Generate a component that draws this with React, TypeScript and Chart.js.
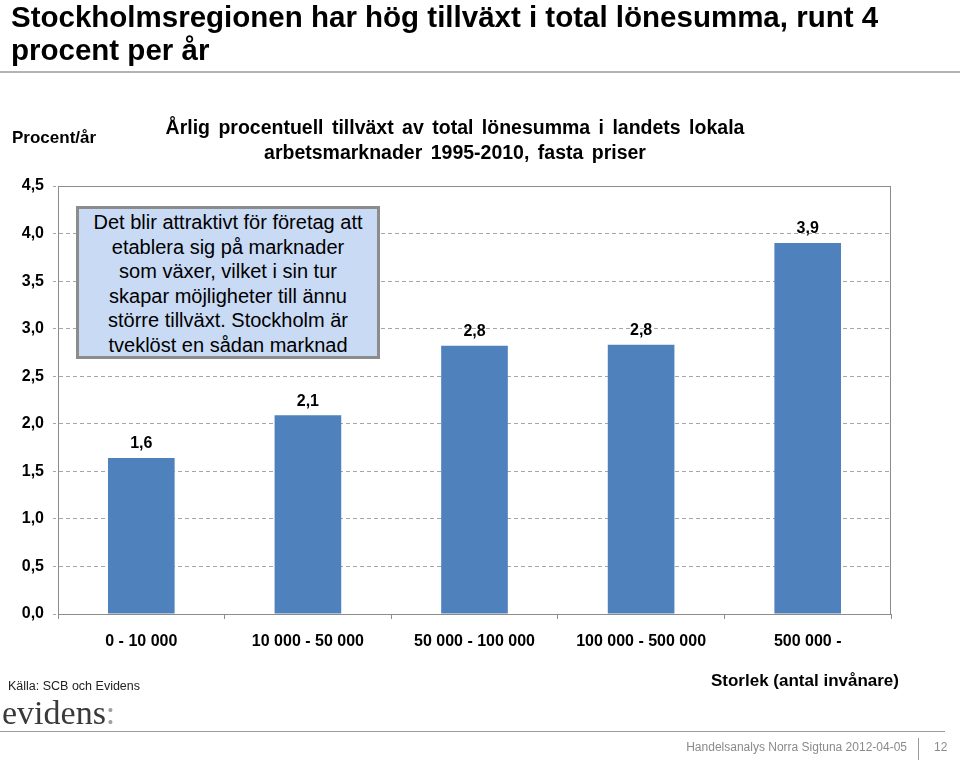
import React, { useEffect, useRef } from "react";
import { Chart, registerables } from "chart.js";

Chart.register(...registerables);

// ---- data ----
const categories = ["0 - 10 000", "10 000 - 50 000", "50 000 - 100 000", "100 000 - 500 000", "500 000 -"];
const growthValues = [1.64, 2.09, 2.82, 2.83, 3.9];
const yMin = 0;
const yMax = 4.5;
const yStep = 0.5;

const pageTitle = ["Stockholmsregionen har hög tillväxt i total lönesumma, runt 4", "procent per år"];
const chartTitle = ["Årlig procentuell tillväxt av total lönesumma i landets lokala", "arbetsmarknader 1995-2010, fasta priser"];
const yAxisTitle = "Procent/år";
const xAxisTitle = "Storlek (antal invånare)";
const noteLines = [
  "Det blir attraktivt för företag att",
  "etablera sig på marknader",
  "som växer, vilket i sin tur",
  "skapar möjligheter till ännu",
  "större tillväxt. Stockholm är",
  "tveklöst en sådan marknad",
];
const sourceText = "Källa: SCB och Evidens";
const footerText = "Handelsanalys Norra Sigtuna 2012-04-05";
const pageNumber = "12";

const FONT = "'Liberation Sans', Arial, Helvetica, sans-serif";
const fmt = (v: number) => v.toFixed(1).replace(".", ",");

const plotBorder = {
  id: "plotBorder",
  beforeDatasetsDraw(chart: any) {
    const { ctx, chartArea } = chart;
    ctx.save();
    ctx.strokeStyle = "#8c8c8c";
    ctx.lineWidth = 1;
    ctx.strokeRect(chartArea.left + 0.5, chartArea.top + 0.5, chartArea.right - chartArea.left - 1, chartArea.bottom - chartArea.top);
    ctx.restore();
  },
};

const valueLabels = {
  id: "valueLabels",
  afterDatasetsDraw(chart: any) {
    const { ctx } = chart;
    const meta = chart.getDatasetMeta(0);
    ctx.save();
    ctx.font = `bold 16px ${FONT}`;
    ctx.fillStyle = "#000";
    ctx.textAlign = "center";
    ctx.textBaseline = "middle";
    meta.data.forEach((bar: any, i: number) => {
      const v = chart.data.datasets[0].data[i] as number;
      ctx.fillText(fmt(v), bar.x, bar.y - 14);
    });
    ctx.restore();
  },
};

function BarChart() {
  const ref = useRef<HTMLCanvasElement | null>(null);
  useEffect(() => {
    if (!ref.current) return;
    const chart = new Chart(ref.current, {
      type: "bar",
      data: {
        labels: categories,
        datasets: [
          {
            data: growthValues,
            backgroundColor: "#4f81bd",
            borderWidth: 0,
            barPercentage: 0.4,
            categoryPercentage: 1,
          },
        ],
      },
      options: {
        responsive: false,
        animation: false,
        events: [],
        layout: { padding: { left: 0, right: 69, top: 186, bottom: 109 } },
        plugins: { legend: { display: false }, tooltip: { enabled: false }, title: { display: false } },
        scales: {
          x: {
            afterFit: (s: any) => {
              s.height = 40;
            },
            grid: { display: true, drawOnChartArea: false, drawTicks: true, tickLength: 5, color: "#8c8c8c", offset: true },
            border: { display: true, color: "#8c8c8c", width: 1 },
            ticks: {
              color: "#000",
              font: { family: FONT, size: 16, weight: "bold" },
              maxRotation: 0,
              autoSkip: false,
              padding: 13,
            },
          },
          y: {
            min: yMin,
            max: yMax,
            afterFit: (s: any) => {
              s.width = 58;
            },
            grid: { color: "#a6a6a6", tickLength: 5, tickColor: "#a6a6a6", tickBorderDash: [3, 2] },
            border: { display: true, color: "#8c8c8c", width: 1, dash: [4, 3] },
            ticks: {
              stepSize: yStep,
              color: "#000",
              font: { family: FONT, size: 16, weight: "bold" },
              padding: 9,
              callback: (v: any) => fmt(Number(v)),
            },
          },
        },
      } as any,
      plugins: [plotBorder, valueLabels],
    });
    return () => chart.destroy();
  }, []);
  return <canvas ref={ref} width={960} height={763} style={{ position: "absolute", left: 0, top: 0 }} />;
}

export default function App() {
  const abs: React.CSSProperties = { position: "absolute", whiteSpace: "nowrap", fontFamily: FONT, color: "#000" };
  return (
    <div style={{ position: "absolute", left: 0, top: 0, width: 960, height: 763, background: "#fff", overflow: "hidden" }}>
      <BarChart />
      <div style={{ ...abs, left: 11, top: 0, fontSize: 29.5, fontWeight: "bold", lineHeight: "33px" }}>
        {pageTitle[0]}
        <br />
        {pageTitle[1]}
      </div>
      <div style={{ position: "absolute", left: 0, top: 71, width: 960, height: 2, background: "#b4b4b4" }} />
      <div
        style={{
          ...abs,
          left: 155,
          width: 600,
          top: 115,
          textAlign: "center",
          fontSize: 19.5,
          fontWeight: "bold",
          lineHeight: "25px",
          wordSpacing: 3,
        }}
      >
        {chartTitle[0]}
        <br />
        {chartTitle[1]}
      </div>
      <div style={{ ...abs, left: 12, top: 127, fontSize: 17, fontWeight: "bold", lineHeight: "22px" }}>{yAxisTitle}</div>
      <div
        style={{
          ...abs,
          left: 76,
          top: 206,
          width: 304,
          height: 153,
          boxSizing: "border-box",
          border: "3px solid #8c8c8c",
          background: "#c9daf5",
          textAlign: "center",
          fontSize: 20,
          lineHeight: "24.5px",
          paddingTop: 1,
        }}
      >
        {noteLines.map((l, i) => (
          <div key={i}>{l}</div>
        ))}
      </div>
      <div style={{ ...abs, left: 690, width: 230, top: 670, textAlign: "center", fontSize: 17, fontWeight: "bold", lineHeight: "22px" }}>
        {xAxisTitle}
      </div>
      <div style={{ ...abs, left: 8, top: 678, fontSize: 12.5, lineHeight: "16px", color: "#222" }}>{sourceText}</div>
      <div style={{ ...abs, left: 2, top: 696, fontSize: 34, lineHeight: "34px", fontFamily: "'Liberation Serif', 'Times New Roman', serif", color: "#3a3a3a" }}>
        evidens<span style={{ color: "#a0a0a0" }}>:</span>
      </div>
      <div style={{ position: "absolute", left: 0, top: 731, width: 945, height: 1, background: "#9a9a9a" }} />
      <div style={{ ...abs, left: 600, width: 307, top: 739, textAlign: "right", fontSize: 12, lineHeight: "16px", color: "#8a8a8a" }}>{footerText}</div>
      <div style={{ position: "absolute", left: 918, top: 738, width: 1, height: 22, background: "#9a9a9a" }} />
      <div style={{ ...abs, left: 934, top: 739, fontSize: 12, lineHeight: "16px", color: "#8a8a8a" }}>{pageNumber}</div>
    </div>
  );
}
